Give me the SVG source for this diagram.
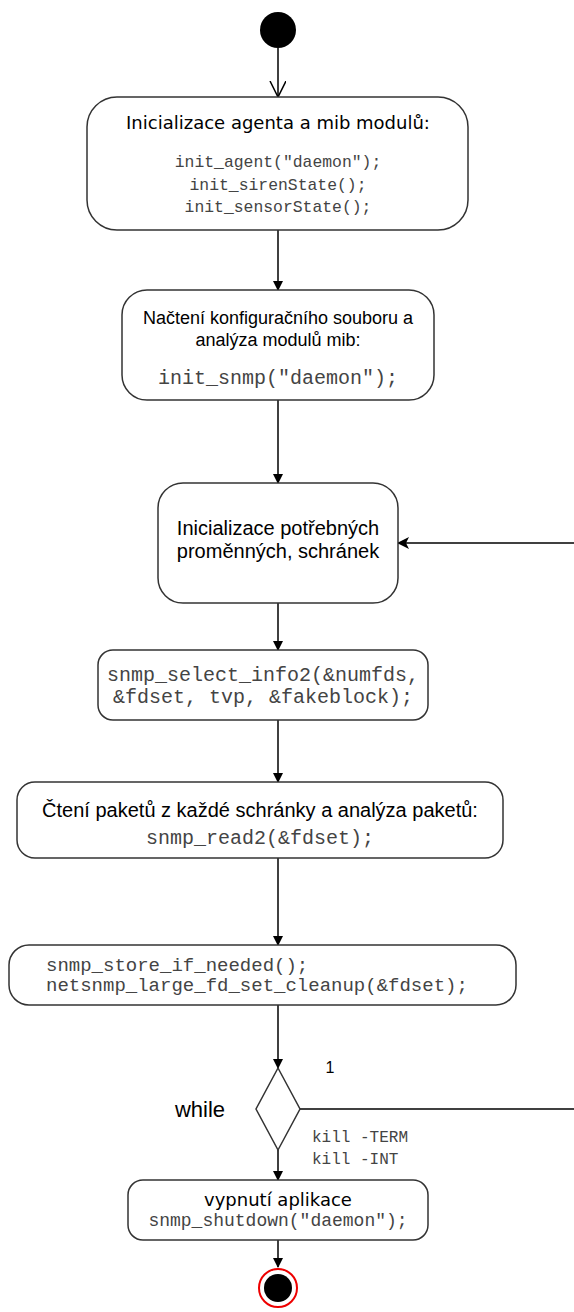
<svg xmlns="http://www.w3.org/2000/svg" width="574" height="1312" viewBox="0 0 574 1312">
<defs>
<style>
.box{fill:#fff;stroke:#333;stroke-width:1.5}
.ln{fill:none;stroke:#000;stroke-width:1.5}
.dv{font-family:"DejaVu Sans",sans-serif;fill:#000}
.ar{font-family:"Liberation Sans",Arial,sans-serif;fill:#000}
.mono{font-family:"Liberation Mono","Courier New",monospace;fill:#444}
.c{text-anchor:middle}
</style>
<marker id="fill" markerUnits="userSpaceOnUse" markerWidth="12" markerHeight="12" refX="9" refY="5" orient="auto">
<path d="M0,0 L10,5 L0,10 Z" fill="#000"/>
</marker>
<marker id="cls" markerUnits="userSpaceOnUse" markerWidth="14" markerHeight="14" refX="11" refY="6" orient="auto">
<path d="M0,0 L12,6 L0,12 L3,6 Z" fill="#000"/>
</marker>
<marker id="open" markerUnits="userSpaceOnUse" markerWidth="20" markerHeight="20" refX="16" refY="8" orient="auto">
<path d="M0,0 L16,8 L0,16" fill="none" stroke="#000" stroke-width="1.5"/>
</marker>
</defs>

<g id="connectors">
<line class="ln" x1="278" y1="48" x2="278" y2="97" marker-end="url(#open)"/>
<line class="ln" x1="278" y1="230" x2="278" y2="290" marker-end="url(#fill)"/>
<line class="ln" x1="278" y1="400" x2="278" y2="483" marker-end="url(#fill)"/>
<line class="ln" x1="574" y1="543" x2="398" y2="543" marker-end="url(#cls)"/>
<line class="ln" x1="278" y1="603" x2="278" y2="650" marker-end="url(#fill)"/>
<line class="ln" x1="278" y1="720" x2="278" y2="782" marker-end="url(#fill)"/>
<line class="ln" x1="278" y1="858" x2="278" y2="945" marker-end="url(#fill)"/>
<line class="ln" x1="278" y1="1005" x2="278" y2="1068" marker-end="url(#fill)"/>
<line class="ln" x1="300" y1="1109" x2="574" y2="1109"/>
<line class="ln" x1="278" y1="1150" x2="278" y2="1180" marker-end="url(#fill)"/>
<line class="ln" x1="278" y1="1240" x2="278" y2="1267" marker-end="url(#fill)"/>
<text class="ar" x="330" y="1073" font-size="16" text-anchor="middle">1</text>
<text class="mono" x="312" y="1142" font-size="16">kill -TERM</text>
<text class="mono" x="312" y="1164" font-size="16">kill -INT</text>
</g>

<g id="start">
<circle cx="278" cy="30" r="18" fill="#000"/>
</g>

<g id="init-agent">
<rect class="box" x="87" y="97" width="381" height="133" rx="30"/>
<text class="dv c" x="278" y="129" font-size="18">Inicializace agenta a mib modulů:</text>
<text class="mono c" x="278" y="167" font-size="16.4">init_agent("daemon");</text>
<text class="mono c" x="278" y="190" font-size="16.4">init_sirenState();</text>
<text class="mono c" x="278" y="212" font-size="16.4">init_sensorState();</text>
</g>

<g id="init-snmp">
<rect class="box" x="122" y="290" width="312" height="110" rx="25"/>
<text class="ar c" x="278" y="324" font-size="18">Načtení konfiguračního souboru a</text>
<text class="ar c" x="278" y="346" font-size="18">analýza modulů mib:</text>
<text class="mono c" x="278" y="384" font-size="20">init_snmp("daemon");</text>
</g>

<g id="init-vars">
<rect class="box" x="158" y="483" width="240" height="120" rx="25"/>
<text class="ar c" x="278" y="535" font-size="20">Inicializace potřebných</text>
<text class="ar c" x="278" y="558" font-size="20">proměnných, schránek</text>
</g>

<g id="select-info">
<rect class="box" x="98" y="650" width="330" height="70" rx="15"/>
<text class="mono c" x="263" y="681" font-size="20">snmp_select_info2(&amp;numfds,</text>
<text class="mono c" x="263" y="703" font-size="20">&amp;fdset, tvp, &amp;fakeblock);</text>
</g>

<g id="read">
<rect class="box" x="17" y="782" width="486" height="76" rx="18"/>
<text class="ar c" x="260" y="817" font-size="20">Čtení paketů z každé schránky a analýza paketů:</text>
<text class="mono c" x="260" y="844" font-size="20">snmp_read2(&amp;fdset);</text>
</g>

<g id="cleanup">
<rect class="box" x="9" y="945" width="507" height="60" rx="20"/>
<text class="mono" x="46" y="971" font-size="19">snmp_store_if_needed();</text>
<text class="mono" x="46" y="991" font-size="19">netsnmp_large_fd_set_cleanup(&amp;fdset);</text>
</g>

<g id="while">
<polygon points="278,1068 300,1109 278,1150 256,1109" fill="#fff" stroke="#333" stroke-width="1.5"/>
<text class="ar c" x="200" y="1117" font-size="22">while</text>
</g>

<g id="shutdown">
<rect class="box" x="128" y="1180" width="300" height="60" rx="15"/>
<text class="dv c" x="278" y="1206" font-size="18">vypnutí aplikace</text>
<text class="mono c" x="278" y="1226" font-size="18">snmp_shutdown("daemon");</text>
</g>

<g id="end">
<circle cx="278" cy="1288" r="19" fill="#fff" stroke="#e00" stroke-width="2"/>
<circle cx="278" cy="1288" r="14" fill="#000"/>
</g>
</svg>
